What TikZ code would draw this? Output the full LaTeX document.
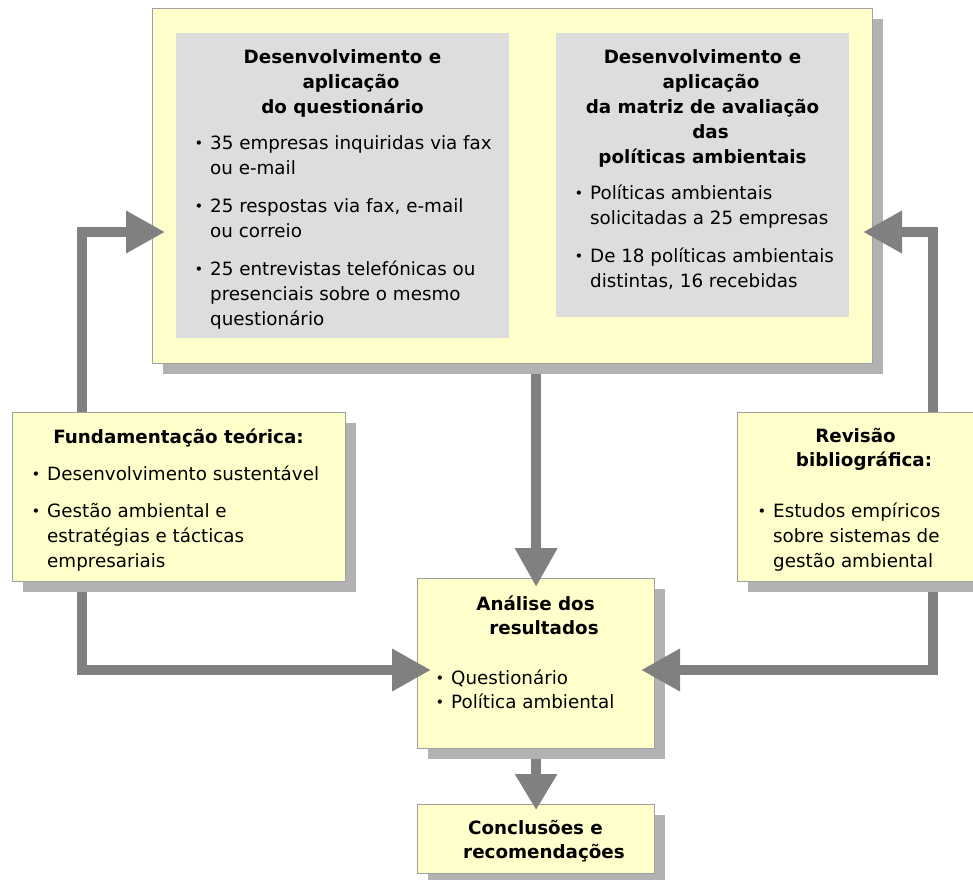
\documentclass[tikz,border=0pt]{standalone}
\usepackage{fontspec}
\setmainfont{DejaVu Sans}
\usetikzlibrary{arrows.meta,shadows,calc}
\definecolor{boxyellow}{HTML}{FFFFCC}
\definecolor{boxborder}{HTML}{A0A0A0}
\definecolor{shd}{HTML}{B2B2B2}
\definecolor{arrgray}{HTML}{808080}
\definecolor{innergray}{HTML}{DDDDDD}
\newcommand\bul{\llap{\raisebox{0.5pt}{\scalebox{0.8}{•}}\hspace{7pt}}}
\tikzset{
  ybox/.style={rectangle, anchor=north west, inner sep=0pt, fill=boxyellow, draw=boxborder, line width=1.2pt,
    drop shadow={shadow xshift=10pt, shadow yshift=-10pt, fill=shd, opacity=1}},
  place/.style={rectangle, anchor=north west, inner sep=0pt},
  gbox/.style={rectangle, anchor=north west, inner sep=0pt, fill=innergray},
  hd/.style={anchor=base, align=center, inner sep=0pt, font=\bfseries\fontsize{18.3}{25}\selectfont},
  hdt/.style={anchor=base, align=center, inner sep=0pt, font=\bfseries\fontsize{18.3}{24}\selectfont},
  bl/.style={anchor=base west, align=left, inner sep=0pt, font=\fontsize{18.3}{25}\selectfont},
  blt/.style={anchor=base west, align=left, inner sep=0pt, font=\fontsize{18.3}{24}\selectfont},
  arr/.style={draw=arrgray, line width=10.5pt, line join=miter, line cap=butt, -{Triangle[length=39pt,width=40pt]}}
}
\begin{document}
\begin{tikzpicture}[x=1pt,y=-1pt]
\useasboundingbox (0,0) rectangle (973,879);
% top box (text nodes are placed by the baseline of their last line)
\node[ybox, minimum width=720pt, minimum height=355pt] (top) at (152,8) {};
\node[gbox, minimum width=333pt, minimum height=305pt] (gL) at (176,33) {};
\node[gbox, minimum width=293pt, minimum height=284pt] (gR) at (556,33) {};
\node[hd] (gLh) at (342.5,113) {Desenvolvimento e\\\hspace*{17pt}aplicação\\do questionário};
\node[bl] (gLb) at (210,325) {\bul 35 empresas inquiridas via fax\\ou e-mail\\[13pt]\bul 25 respostas via fax, e-mail\\ou correio\\[13pt]\bul 25 entrevistas telefónicas ou\\presenciais sobre o mesmo\\questionário};
\node[hd] (gRh) at (702.5,163) {Desenvolvimento e\\\hspace*{17pt}aplicação\\da matriz de avaliação\\\hspace*{16pt}das\\políticas ambientais};
\node[bl] (gRb) at (590,287) {\bul Políticas ambientais\\solicitadas a 25 empresas\\[13pt]\bul De 18 políticas ambientais\\distintas, 16 recebidas};
% analysis box
\node[ybox, minimum width=237pt, minimum height=170pt] (ana) at (417,578) {};
\node[hdt] (anah) at (535.5,634) {Análise dos\\\hspace*{17pt}resultados};
\node[blt] (anab) at (451,708) {\bul Questionário\\\bul Política ambiental};
% conclusions box
\node[ybox, minimum width=237pt, minimum height=69pt] (conc) at (417,804) {};
\node[hdt] (conch) at (535.5,858) {Conclusões e\\\hspace*{17pt}recomendações};
% connector coordinates
\coordinate (lx) at (82,0);
\coordinate (rx) at (933,0);
\coordinate (tipTL) at (165,232);
\coordinate (tipTR) at (863,232);
\coordinate (tipBL) at (431,670);
\coordinate (tipBR) at (641,670);
\node[place, minimum width=333pt, minimum height=169pt] (fund) at (12,412) {};
\node[place, minimum width=238pt, minimum height=169pt] (rev) at (737,412) {};
% arrows
\draw[arr] (fund.center -| lx) |- (tipTL);
\draw[arr] (fund.center -| lx) |- (tipBL);
\draw[arr] (rev.center -| rx) |- (tipTR);
\draw[arr] (rev.center -| rx) |- (tipBR);
\draw[arr] ($(top.south -| ana.north)+(0,10)$) -- ($(ana.north)+(0,9)$);
\draw[arr, -{Triangle[length=36pt,width=40pt]}] ($(ana.south)+(0,10)$) -- ($(conc.north)+(0,6)$);
% side boxes drawn over the connectors
\node[ybox, minimum width=333pt, minimum height=169pt] (fundbox) at (fund.north west) {};
\node[hd] (fundh) at (178.5,443) {Fundamentação teórica:};
\node[bl] (fundb) at (47,567) {\bul Desenvolvimento sustentável\\[12pt]\bul Gestão ambiental e\\estratégias e tácticas\\empresariais};
\node[ybox, minimum width=238pt, minimum height=169pt] (revbox) at (rev.north west) {};
\node[hdt] (revh) at (855.5,466) {Revisão\\\hspace*{17pt}bibliográfica:};
\node[bl] (revb) at (773,567) {\bul Estudos empíricos\\sobre sistemas de\\gestão ambiental};
\end{tikzpicture}
\end{document}
